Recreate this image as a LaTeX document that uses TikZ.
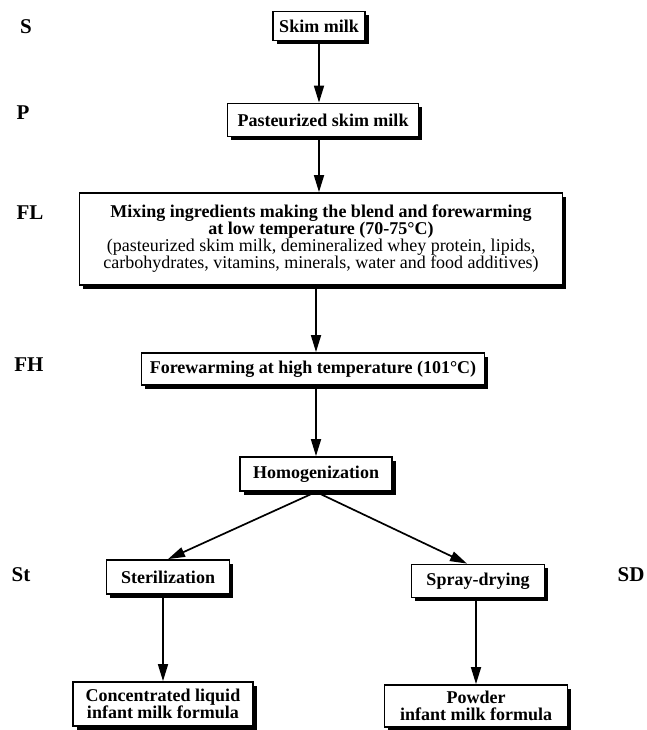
\documentclass[tikz,border=0pt]{standalone}
\usepackage{fontspec}
\setmainfont{Liberation Serif}
\usetikzlibrary{
    arrows.meta,
    positioning,
    shadows
}

\begin{document}
\begin{tikzpicture}[
        x=1pt, y=-1pt,
        every node/.style={font=\fontsize{18}{17}\selectfont\bfseries},
        stepbox/.style={
            rectangle,
            draw=black,
            line width=1.8pt,
            fill=white,
            drop shadow={shadow xshift=3.5pt,shadow yshift=-3.5pt,fill=black,opacity=1},
            align=center,
            inner sep=0pt
        },
        tag/.style={font=\fontsize{21}{21}\selectfont\bfseries},
        flow/.style={-{Triangle[length=17pt,width=10pt]},line width=1.7pt,draw=black}
    ]
        \useasboundingbox (0,0) rectangle (646,730);

        \node[stepbox, minimum width=92pt, minimum height=29pt] (skim) at (319,26) {Skim milk};
        \node[stepbox, minimum width=191pt, minimum height=33pt] (past) at (323,120) {Pasteurized skim milk};
        \node[stepbox, minimum width=483pt, minimum height=92pt] (mix) at (321,239)
            {Mixing ingredients making the blend and forewarming\\
            at low temperature (70-75°C)\\
            \mdseries (pasteurized skim milk, demineralized whey protein, lipids,\\
            \mdseries carbohydrates, vitamins, minerals, water and food additives)};
        \node[stepbox, minimum width=343pt, minimum height=32pt] (fh) at (313,369) {Forewarming at high temperature (101°C)};
        \node[stepbox, minimum width=152pt, minimum height=34pt] (homog) at (316,474) {Homogenization};
        \node[stepbox, minimum width=123pt, minimum height=34pt] (steril) at (168,577) {Sterilization};
        \node[stepbox, minimum width=133pt, minimum height=33pt] (spray) at (478,581) {Spray-drying};
        \node[stepbox, minimum width=180pt, minimum height=44pt] (conc) at (163,704)
            {Concentrated liquid\\infant milk formula};
        \node[stepbox, minimum width=183pt, minimum height=42pt] (powder) at (476,706)
            {Powder\\infant milk formula};

        \node[tag] (tS) at (26,27) {S};
        \node[tag] (tP) at (23,113) {P};
        \node[tag] (tFL) at (30,213) {FL};
        \node[tag] (tFH) at (29,365) {FH};
        \node[tag] (tSt) at (21,575) {St};
        \node[tag] (tSD) at (631,575) {SD};

        \draw[flow] (skim.south) -- (skim.south |- past.north);
        \draw[flow] (skim.south |- past.south) -- (skim.south |- mix.north);
        \draw[flow] (homog.north |- mix.south) -- (homog.north |- fh.north);
        \draw[flow] (homog.north |- fh.south) -- (homog.north);
        \draw[flow] (homog.south) -- (steril.north);
        \draw[flow] (homog.south) -- ([xshift=-11pt]spray.north);
        \draw[flow] (conc.north |- steril.south) -- (conc.north);
        \draw[flow] (powder.north |- spray.south) -- (powder.north);
    \end{tikzpicture}
\end{document}
